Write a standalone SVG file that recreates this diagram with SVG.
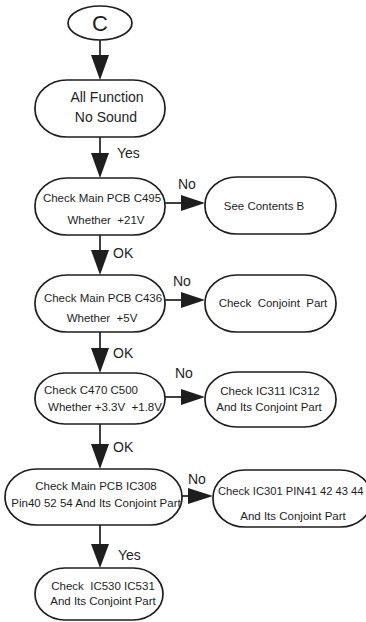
<svg xmlns="http://www.w3.org/2000/svg" width="366" height="622" viewBox="0 0 366 622">
<style>
.box{fill:#fff;stroke:#1e1e1e;stroke-width:1.7}
.ln{stroke:#1e1e1e;stroke-width:1.7;fill:none}
.ah{fill:#1e1e1e}
text{font-family:"Liberation Sans",Arial,sans-serif;fill:#1e1e1e}
.t{font-size:11.5px;text-anchor:middle}
.lb{font-size:14px}
</style>
<rect width="366" height="622" fill="#fff"/>
<g id="connectors">
<line class="ln" x1="100" y1="40" x2="100" y2="60"/><polygon class="ah" points="91,55 109,55 100,80"/>
<line class="ln" x1="100" y1="137" x2="100" y2="156"/><polygon class="ah" points="91,153 109,153 100,178"/>
<text class="lb" x="117" y="158">Yes</text>
<line class="ln" x1="165" y1="203" x2="184" y2="203"/><polygon class="ah" points="181,195 181,211 205,203"/>
<text class="lb" x="178" y="189">No</text>
<line class="ln" x1="100" y1="235" x2="100" y2="253"/><polygon class="ah" points="91,250 109,250 100,275"/>
<text class="lb" x="113" y="258">OK</text>
<line class="ln" x1="165" y1="300" x2="184" y2="300"/><polygon class="ah" points="181,292 181,308 205,300"/>
<text class="lb" x="173" y="286">No</text>
<line class="ln" x1="100" y1="332" x2="100" y2="351"/><polygon class="ah" points="91,348 109,348 100,373"/>
<text class="lb" x="113" y="358">OK</text>
<line class="ln" x1="165" y1="397" x2="184" y2="397"/><polygon class="ah" points="181,389 181,405 205,397"/>
<text class="lb" x="175" y="378">No</text>
<line class="ln" x1="100" y1="424" x2="100" y2="448"/><polygon class="ah" points="91,444 109,444 100,469"/>
<text class="lb" x="113" y="452">OK</text>
<line class="ln" x1="182" y1="496" x2="191" y2="496"/><polygon class="ah" points="188,488 188,504 213,496"/>
<text class="lb" x="188" y="484">No</text>
<line class="ln" x1="100" y1="525" x2="100" y2="548"/><polygon class="ah" points="91,544 109,544 100,568"/>
<text class="lb" x="118" y="560">Yes</text>
</g>
<g id="start">
<ellipse class="box" cx="100" cy="23" rx="32" ry="17"/>
<text x="100" y="31" style="font-size:22px;text-anchor:middle">C</text>
</g>
<g id="n1">
<rect class="box" x="35" y="80" width="130" height="57" rx="32" ry="28"/>
<text class="t" x="107" y="102" style="font-size:14px">All Function</text>
<text class="t" x="106" y="122" style="font-size:14px">No Sound</text>
</g>
<g id="n2">
<rect class="box" x="35" y="178" width="130" height="57" rx="32" ry="28"/>
<text class="t" x="102" y="202">Check Main PCB C495</text>
<text class="t" x="106" y="224" xml:space="preserve">Whether  +21V</text>
</g>
<g id="n2b">
<rect class="box" x="205" y="177" width="131" height="57" rx="32" ry="28"/>
<text class="t" x="264" y="210">See Contents B</text>
</g>
<g id="n3">
<rect class="box" x="35" y="275" width="130" height="57" rx="32" ry="28"/>
<text class="t" x="103" y="302">Check Main PCB C436</text>
<text class="t" x="102" y="322" xml:space="preserve">Whether  +5V</text>
</g>
<g id="n3b">
<rect class="box" x="205" y="275" width="131" height="57" rx="32" ry="28"/>
<text class="t" x="273" y="307" xml:space="preserve">Check  Conjoint  Part</text>
</g>
<g id="n4">
<rect class="box" x="35" y="373" width="130" height="51" rx="30" ry="25"/>
<text class="t" x="91" y="394">Check C470 C500</text>
<text class="t" x="105" y="411" xml:space="preserve">Whether +3.3V  +1.8V</text>
</g>
<g id="n4b">
<rect class="box" x="205" y="372" width="131" height="55" rx="32" ry="27"/>
<text class="t" x="270" y="395">Check IC311 IC312</text>
<text class="t" x="269" y="411">And Its Conjoint Part</text>
</g>
<g id="n5">
<rect class="box" x="5" y="469" width="177" height="56" rx="32" ry="28"/>
<text class="t" x="96" y="490">Check Main PCB IC308</text>
<text class="t" x="96" y="507">Pin40 52 54 And Its Conjoint Part</text>
</g>
<g id="n5b">
<rect class="box" x="213" y="470" width="159" height="57" rx="32" ry="28"/>
<text x="218" y="495" style="font-size:11.2px">Check IC301 PIN41 42 43 44</text>
<text class="t" x="293" y="520">And Its Conjoint Part</text>
</g>
<g id="n6">
<rect class="box" x="35" y="568" width="128" height="52" rx="30" ry="26"/>
<text class="t" x="103" y="590" xml:space="preserve">Check  IC530 IC531</text>
<text class="t" x="103" y="605">And Its Conjoint Part</text>
</g>
</svg>
